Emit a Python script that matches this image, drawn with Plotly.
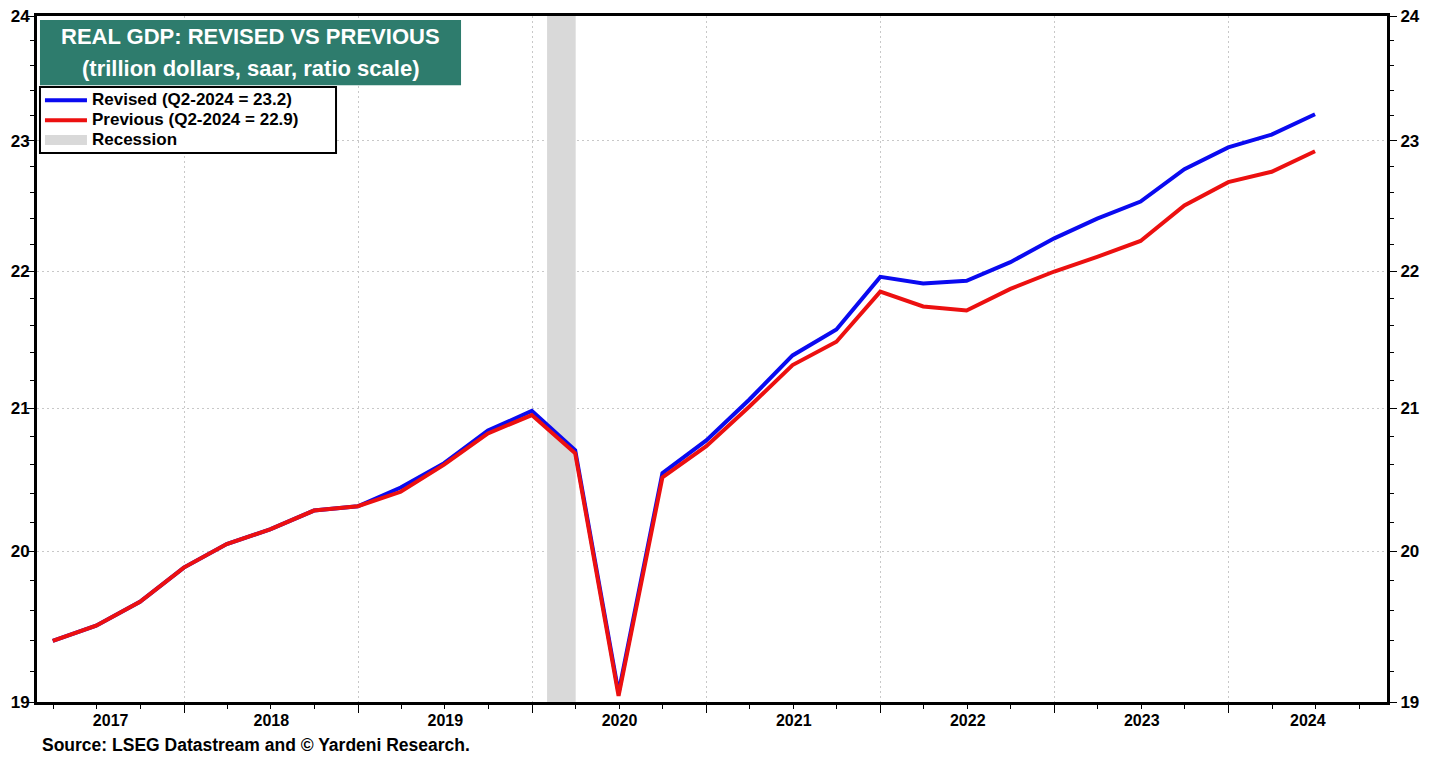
import math
import pandas as pd
import plotly.graph_objects as go

# ---------------- data ----------------
quarters = pd.period_range("2017Q1", "2024Q2", freq="Q")
dates = [p.end_time.normalize().strftime("%Y-%m-%d") for p in quarters]

revised = [19.40, 19.50, 19.66, 19.89, 20.05, 20.15, 20.28, 20.31, 20.44, 20.61,
           20.84, 20.98, 20.70, 19.06, 20.54, 20.77, 21.06, 21.38, 21.57, 21.96,
           21.91, 21.93, 22.07, 22.25, 22.40, 22.53, 22.78, 22.95, 23.05, 23.21]
previous = [19.40, 19.50, 19.66, 19.89, 20.05, 20.15, 20.28, 20.31, 20.41, 20.60,
            20.82, 20.95, 20.68, 19.04, 20.51, 20.73, 21.01, 21.31, 21.48, 21.85,
            21.74, 21.71, 21.87, 22.00, 22.11, 22.23, 22.50, 22.68, 22.76, 22.92]

recession_start = "2020-02-01"
recession_end = "2020-04-01"

series_names = ["Revised (Q2-2024 = 23.2)", "Previous (Q2-2024 = 22.9)", "Recession"]

year_labels = [2017, 2018, 2019, 2020, 2021, 2022, 2023, 2024]

y_ticks = [19, 20, 21, 22, 23, 24]
y_ticktext = ["19", "20", "21", "22", "23", "24"]
y_minor = [round(t + k * 0.2, 1) for t in y_ticks[:-1] for k in range(1, 5)]

x_range = ["2017-02-26", "2024-11-28"]
y_range = [math.log10(19), math.log10(24)]

# year labels centred in the visible part of each year
r0, r1 = pd.Timestamp(x_range[0]), pd.Timestamp(x_range[1])
label_pos = []
for yr in year_labels:
    a = max(pd.Timestamp(f"{yr}-01-01"), r0)
    b = min(pd.Timestamp(f"{yr + 1}-01-01"), r1)
    label_pos.append((a + (b - a) / 2).strftime("%Y-%m-%d %H:%M"))

BLUE = "#0a0af0"
RED = "#ec1010"
GRAY = "#d9d9d9"
TEAL = "#2e7c6d"
GRID = "#c8c8c8"
FONT = "Arial, Liberation Sans, sans-serif"


def leg(name):
    return '<span style="font-size:17px">' + name + "</span>"


fig = go.Figure()

# recession band
fig.add_trace(go.Scatter(
    x=[recession_start, recession_start, recession_end, recession_end],
    y=[19, 24, 24, 19], fill="toself", fillcolor=GRAY, mode="lines",
    line=dict(width=0, color=GRAY), hoverinfo="skip", showlegend=False))

fig.add_trace(go.Scatter(x=dates, y=revised, mode="lines", name=leg(series_names[0]),
                         line=dict(color=BLUE, width=4), legendrank=1))
fig.add_trace(go.Scatter(x=dates, y=previous, mode="lines", name=leg(series_names[1]),
                         line=dict(color=RED, width=4), legendrank=2))
# legend entry for recession
fig.add_trace(go.Scatter(x=[None], y=[None], mode="lines", name=leg(series_names[2]),
                         line=dict(color=GRAY, width=14), legendrank=3))
# invisible trace to anchor the label axis and right axis
fig.add_trace(go.Scatter(x=dates, y=revised, mode="lines", xaxis="x2", yaxis="y2",
                         line=dict(width=0), opacity=0, hoverinfo="skip", showlegend=False))

axis_font = dict(family=FONT, size=17, color="black", weight="bold")

yaxis_common = dict(
    type="log", range=y_range, tickvals=y_ticks, ticktext=y_ticktext,
    ticks="outside", ticklen=7, tickwidth=1, tickcolor="black",
    showline=True, linewidth=3, linecolor="black",
    tickfont=axis_font, zeroline=False, automargin=False,
    ticklabeloverflow="allow",
    minor=dict(tickvals=y_minor, ticks="outside", ticklen=4, tickwidth=1,
               tickcolor="black", showgrid=False),
)

fig.update_layout(
    width=1422, height=746,
    margin=dict(l=29, r=43, t=8, b=52, autoexpand=False),
    paper_bgcolor="white", plot_bgcolor="white",
    font=dict(family=FONT, color="black"),
    xaxis=dict(
        type="date", range=x_range, dtick="M12", tick0="2017-01-01",
        showticklabels=False, automargin=False,
        ticks="outside", ticklen=8, tickwidth=1, tickcolor="black",
        showline=True, linewidth=3, linecolor="black", mirror=True,
        showgrid=True, gridcolor=GRID, griddash="2px,3px", gridwidth=1,
        minor=dict(dtick="M3", tick0="2017-01-01", ticks="outside", ticklen=4,
                   tickwidth=1, tickcolor="black", showgrid=False),
    ),
    xaxis2=dict(
        type="date", range=x_range, overlaying="x", anchor="y", side="bottom",
        tickvals=label_pos, ticktext=[str(y) for y in year_labels],
        ticks="outside", ticklen=8, tickcolor="rgba(0,0,0,0)",
        ticklabelstandoff=-4, ticklabeloverflow="allow",
        showline=False, showgrid=False, zeroline=False, automargin=False,
        tickfont=dict(family=FONT, size=16, color="black", weight="bold"),
    ),
    yaxis=dict(**yaxis_common, side="left", showgrid=True,
               gridcolor=GRID, griddash="2px,3px", gridwidth=1,
               ticklabelstandoff=-6),
    yaxis2=dict(**yaxis_common, side="right", overlaying="y", anchor="x",
                showgrid=False),
    showlegend=True,
    legend=dict(x=0.0022, y=0.899, xanchor="left", yanchor="top",
                bgcolor="rgba(0,0,0,0)", borderwidth=0,
                font=dict(family=FONT, size=13, color="black", weight="bold"),
                itemwidth=42, tracegroupgap=0),
)

# title box and legend box (paper coordinates)
fig.add_shape(type="rect", xref="paper", yref="paper", x0=0.0022, x1=0.3141,
              y0=0.899, y1=0.994, fillcolor=TEAL, line=dict(width=0), layer="above")
fig.add_shape(type="rect", xref="paper", yref="paper", x0=0.0022, x1=0.2215,
              y0=0.8003, y1=0.8965, fillcolor="white",
              line=dict(width=2, color="black"), layer="above")

fig.add_annotation(xref="paper", yref="paper", x=0.158, y=0.970, showarrow=False,
                   text="REAL GDP: REVISED VS PREVIOUS", xanchor="center", yanchor="middle",
                   font=dict(family=FONT, size=22, color="white", weight="bold"))
fig.add_annotation(xref="paper", yref="paper", x=0.158, y=0.924, showarrow=False,
                   text="(trillion dollars, saar, ratio scale)", xanchor="center", yanchor="middle",
                   font=dict(family=FONT, size=22, color="white", weight="bold"))
fig.add_annotation(xref="paper", yref="paper", x=0.0022, y=-0.0627, showarrow=False,
                   text="Source: LSEG Datastream and © Yardeni Research.",
                   xanchor="left", yanchor="middle",
                   font=dict(family=FONT, size=17.5, color="black", weight="bold"))

fig.write_html("out.html")
